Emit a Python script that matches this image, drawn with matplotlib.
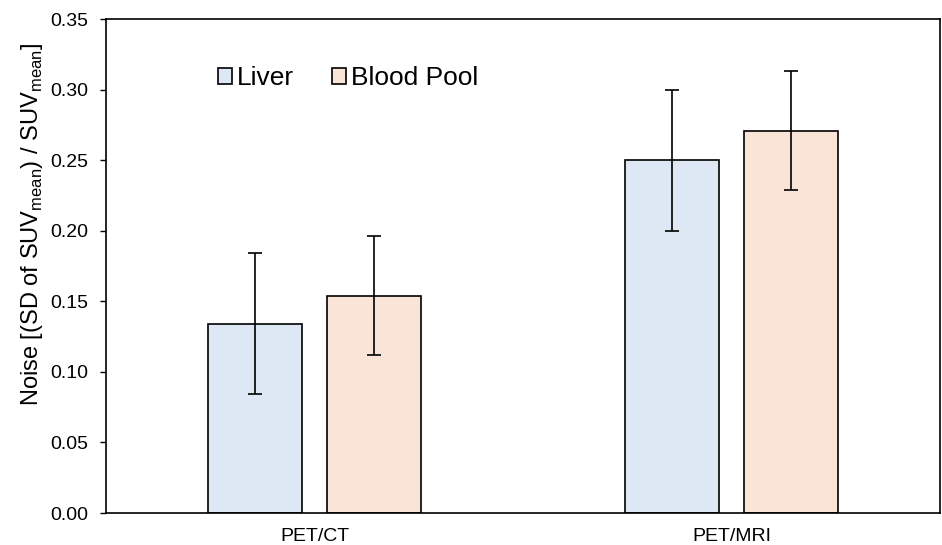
import numpy as np
import matplotlib
matplotlib.use("Agg")
import matplotlib.pyplot as plt

plt.rcParams['font.family'] = ['Liberation Sans', 'DejaVu Sans']
plt.rcParams['mathtext.fontset'] = 'custom'
plt.rcParams['mathtext.rm'] = 'Liberation Sans'

categorias = ['PET/CT', 'PET/MRI']
series = ['Liver', 'Blood Pool']
liver = [0.134, 0.250]
liver_err = [0.050, 0.050]
blood = [0.154, 0.271]
blood_err = [0.042, 0.042]

colores = ['#DEE8F4', '#FAE4D7']

fig = plt.figure(figsize=(9.42, 5.45), dpi=100)
ax = fig.add_axes([0.1125, 0.0587, 0.8855, 0.9063])

x = np.arange(len(categorias))
ancho = 0.224
desp = 0.1425

err_kw = dict(ecolor='black', elinewidth=1.2, capsize=5, capthick=1.2)
ax.bar(x - desp, liver, ancho, yerr=liver_err, color=colores[0],
       edgecolor='black', linewidth=1.2, label=series[0], error_kw=err_kw)
ax.bar(x + desp, blood, ancho, yerr=blood_err, color=colores[1],
       edgecolor='black', linewidth=1.2, label=series[1], error_kw=err_kw)

ax.set_xlim(-0.5, 1.5)
ax.set_ylim(0, 0.35)
ax.set_yticks(np.arange(0, 0.351, 0.05))
ax.set_yticklabels([f'{v:.2f}' for v in np.arange(0, 0.351, 0.05)])
ax.set_xticks(x)
ax.set_xticklabels(categorias)
ax.tick_params(axis='x', length=0, labelsize=14, pad=11)
ax.tick_params(axis='y', direction='out', length=4.5, width=1, labelsize=14, pad=8.5)
for s in ax.spines.values():
    s.set_linewidth(1.2)

ax.set_ylabel(r'Noise [(SD of SUV$_{\mathregular{mean}}$) / SUV$_{\mathregular{mean}}$]',
              fontsize=17)
ax.yaxis.set_label_coords(-0.073, 0.585)

ax.legend(loc='center left', bbox_to_anchor=(0.134, 0.88), ncol=2, frameon=False,
          fontsize=19, borderpad=0, borderaxespad=0, handlelength=0.53,
          handleheight=0.53, handletextpad=0.19, columnspacing=1.44)

fig.savefig('out.png', dpi=100)
